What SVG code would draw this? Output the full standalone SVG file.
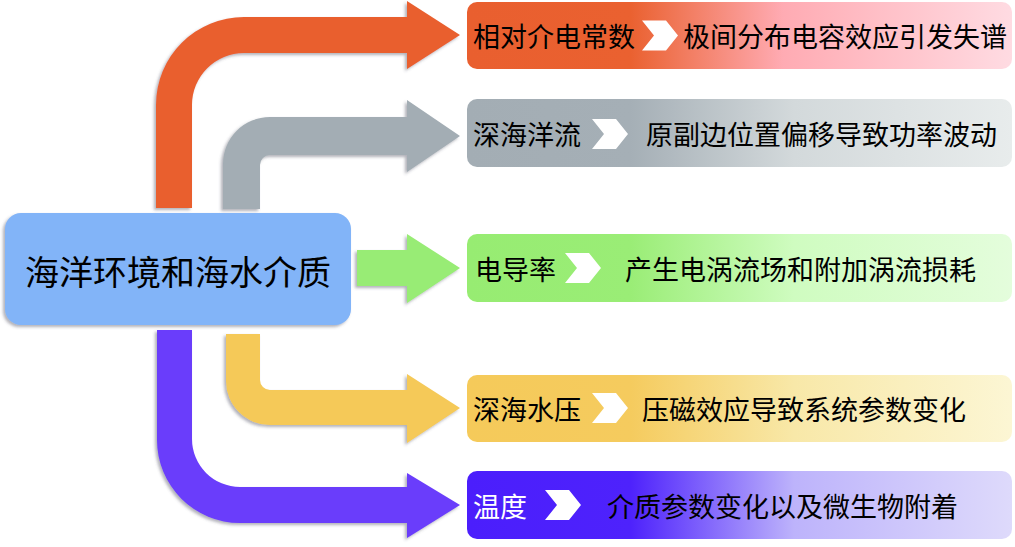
<svg xmlns="http://www.w3.org/2000/svg" xmlns:xlink="http://www.w3.org/1999/xlink" width="1015" height="547" viewBox="0 0 1015 547">
<style>
  .t { font-family: "Noto Sans CJK SC", "Noto Sans", sans-serif; font-size: 27px; fill: #000; dominant-baseline: central; }
  .w { fill: #fff; }
  .main { font-family: "Noto Sans CJK SC", "Noto Sans", sans-serif; font-size: 34px; fill: #000; dominant-baseline: central; text-anchor: middle; }
  .chev { fill: #fff; }
  .arrow { filter: url(#sh); }
</style>
<defs>
  <filter id="sh" x="-10%" y="-10%" width="120%" height="120%">
    <feDropShadow dx="-2" dy="2" stdDeviation="1.5" flood-color="#556" flood-opacity="0.45"/>
  </filter>
  <path id="chevron" d="M0,0 H24 L36,15 L24,30 H0 L12,15 Z"/>
  <linearGradient id="g1" x1="0" y1="0" x2="1" y2="0">
    <stop offset="0" stop-color="#e95f2f"/>
    <stop offset="0.3" stop-color="#ea6130"/>
    <stop offset="0.58" stop-color="#ffabb3"/>
    <stop offset="1" stop-color="#ffdbe2"/>
  </linearGradient>
  <linearGradient id="g2" x1="0" y1="0" x2="1" y2="0">
    <stop offset="0" stop-color="#a3adb4"/>
    <stop offset="0.3" stop-color="#a5afb6"/>
    <stop offset="0.6" stop-color="#d3d9db"/>
    <stop offset="1" stop-color="#e8ecec"/>
  </linearGradient>
  <linearGradient id="g3" x1="0" y1="0" x2="1" y2="0">
    <stop offset="0" stop-color="#97ec72"/>
    <stop offset="0.3" stop-color="#9aed76"/>
    <stop offset="0.6" stop-color="#cffcc0"/>
    <stop offset="1" stop-color="#e4fddc"/>
  </linearGradient>
  <linearGradient id="g4" x1="0" y1="0" x2="1" y2="0">
    <stop offset="0" stop-color="#f5ca5a"/>
    <stop offset="0.3" stop-color="#f5cb5e"/>
    <stop offset="0.6" stop-color="#f8e8a8"/>
    <stop offset="1" stop-color="#fcf6d4"/>
  </linearGradient>
  <linearGradient id="g5" x1="0" y1="0" x2="1" y2="0">
    <stop offset="0" stop-color="#4b1efc"/>
    <stop offset="0.3" stop-color="#4e22fc"/>
    <stop offset="0.6" stop-color="#bdb3fb"/>
    <stop offset="1" stop-color="#dedafb"/>
  </linearGradient>
</defs>
<rect width="1015" height="547" fill="#fff"/>

<g id="connectors">
  <path class="arrow" fill="#e95f2f" d="M156,208 L156,105 A88,88 0 0 1 244,17 L407,17 L407,1 L460,35 L407,69 L407,53 L244,53 A52,52 0 0 0 192,105 L192,208 Z"/>
  <path class="arrow" fill="#a3adb4" d="M223,209 L223,164 A47,47 0 0 1 270,117 L407,117 L407,100 L460,136 L407,172 L407,155 L270,155 A10,10 0 0 0 260,165 L260,209 Z"/>
  <path class="arrow" fill="#98ec74" d="M357,250 L407,250 L407,234 L460,268 L407,303 L407,286 L357,286 Z"/>
  <path class="arrow" fill="#f5c958" d="M226,334 L260,334 L260,380 A10,10 0 0 0 270,390 L407,390 L407,374 L460,408 L407,443 L407,425 L270,425 A44,44 0 0 1 226,381 Z"/>
  <path class="arrow" fill="#6a3dfb" d="M157,330 L192,330 L192,439 A48,48 0 0 0 240,487 L407,487 L407,473 L460,505 L407,538 L407,523 L240,523 A83,83 0 0 1 157,440 Z"/>
</g>

<g id="center">
  <rect x="5" y="213" width="346" height="112" rx="16" fill="#82b4f8" filter="url(#sh)"/>
  <text class="main" x="178" y="270">海洋环境和海水介质</text>
</g>

<g id="n1">
  <rect x="467" y="2" width="545" height="67" rx="10" fill="url(#g1)"/>
  <text class="t" x="473" y="35.5">相对介电常数</text>
  <use href="#chevron" class="chev" x="642" y="20.5"/>
  <text class="t" x="683" y="35.5">极间分布电容效应引发失谱</text>
</g>
<g id="n2">
  <rect x="467" y="99" width="545" height="68" rx="10" fill="url(#g2)"/>
  <text class="t" x="473" y="133">深海洋流</text>
  <use href="#chevron" class="chev" x="592" y="119"/>
  <text class="t" x="646" y="133">原副边位置偏移导致功率波动</text>
</g>
<g id="n3">
  <rect x="467" y="234" width="545" height="68" rx="10" fill="url(#g3)"/>
  <text class="t" x="475" y="268">电导率</text>
  <use href="#chevron" class="chev" x="565" y="253"/>
  <text class="t" x="625" y="268">产生电涡流场和附加涡流损耗</text>
</g>
<g id="n4">
  <rect x="467" y="375" width="545" height="67" rx="10" fill="url(#g4)"/>
  <text class="t" x="473" y="408">深海水压</text>
  <use href="#chevron" class="chev" x="592" y="393"/>
  <text class="t" x="642" y="408">压磁效应导致系统参数变化</text>
</g>
<g id="n5">
  <rect x="467" y="471" width="545" height="68" rx="10" fill="url(#g5)"/>
  <text class="t w" x="473" y="505">温度</text>
  <use href="#chevron" class="chev" x="545" y="490"/>
  <text class="t" x="607" y="505">介质参数变化以及微生物附着</text>
</g>
</svg>
